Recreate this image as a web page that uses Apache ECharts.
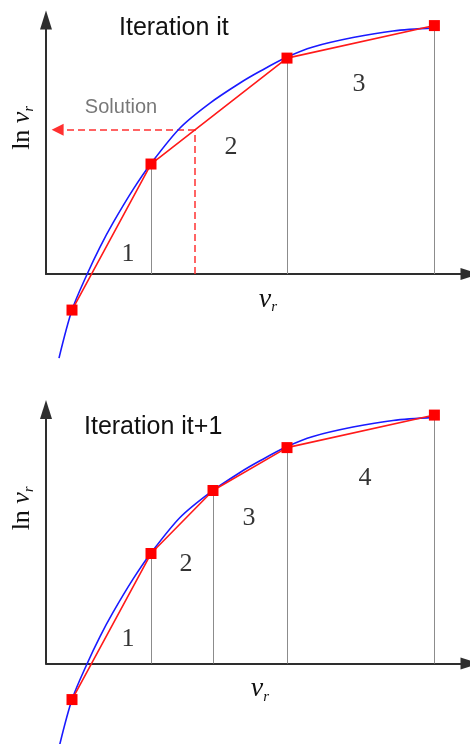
<!DOCTYPE html>
<html>
<head>
<meta charset="utf-8">
<script src="https://cdn.jsdelivr.net/npm/echarts@6/dist/echarts.min.js"></script>
<style>
  html, body { margin: 0; padding: 0; background: #ffffff; }
  #chart { width: 470px; height: 744px; }
</style>
</head>
<body>
<div id="chart"></div>
<script>
// Sampled curve ln(v_r) against v_r (arbitrary units)
const curveX = [3.25, 6.5, 10.3, 13.5, 16.75, 21.75, 26.25, 33.5, 41, 48.5, 53.5, 60.25, 66.75, 76.75, 86.75, 97];
const curveY = [-33.1, -14.2, 0, 10.6, 20.1, 33.2, 43.5, 57.5, 67.3, 75.2, 79.8, 85.4, 89.4, 93.1, 95.7, 96.9];

// Piecewise-linear nodes, iteration it
const nodesItX = [6.5, 26.25, 60.25, 97.1];
const nodesItY = [-14.2, 43.3, 85, 97.8];

// Piecewise-linear nodes, iteration it+1
const nodesNextX = [6.5, 26.25, 41.75, 60.25, 97.1];
const nodesNextY = [-14.2, 43.3, 68.1, 85, 97.8];

// Solution found on segment 2 of iteration it
const solutionX = 37.25;
const solutionY = 56.8;

// Segment numbers
const segNamesIt = ['1', '2', '3'];
const segNamesNext = ['1', '2', '3', '4'];

// ---- layout: anchors for the annotation texts (data units) ----
const segAnchorIt = [[20.5, 7.9], [46.25, 50.0], [78.25, 74.8]];
const segAnchorNext = [[20.5, 9.6], [35, 39.2], [50.75, 57.3], [79.75, 73.0]];
const solutionTextAnchor = [18.75, 65.7];
const arrowEndX = 2.9;

const AXIS = '#2e2e2e';
const SERIF = "'Liberation Serif', 'Times New Roman', serif";
const SANS = "'Liberation Sans', Arial, sans-serif";

const pairs = (xs, ys) => xs.map((x, i) => [x, ys[i]]);

function axisPair(idx, xPad, yPad) {
  return {
    x: {
      type: 'value', gridIndex: idx, min: 0, max: 106,
      axisLine: { show: true, onZero: false, symbol: ['none', 'triangle'], symbolSize: [12, 19],
        lineStyle: { color: AXIS, width: 2 } },
      axisTick: { show: false }, axisLabel: { show: false }, splitLine: { show: false },
      name: '{b|ν}{c|r}', nameLocation: 'middle', nameGap: 10,
      nameTextStyle: { rich: {
        b: { fontFamily: SERIF, fontStyle: 'italic', fontSize: 28, color: '#111', padding: [0, 0, 0, xPad] },
        c: { fontFamily: SERIF, fontStyle: 'italic', fontSize: 15, color: '#111', padding: [16, 0, 0, 0] }
      } }
    },
    y: {
      type: 'value', gridIndex: idx, min: 0, max: 100,
      axisLine: { show: true, onZero: false, symbol: ['none', 'triangle'], symbolSize: [12, 19],
        lineStyle: { color: AXIS, width: 2 } },
      axisTick: { show: false }, axisLabel: { show: false }, splitLine: { show: false },
      name: '{a|ln }{b|ν}{c|r}', nameLocation: 'middle', nameRotate: 90, nameGap: 10,
      nameTextStyle: { rich: {
        a: { fontFamily: SERIF, fontSize: 26, color: '#111', padding: [0, 0, 0, yPad] },
        b: { fontFamily: SERIF, fontStyle: 'italic', fontSize: 26, color: '#111' },
        c: { fontFamily: SERIF, fontStyle: 'italic', fontSize: 14, color: '#111', padding: [14, 0, 0, 0] }
      } }
    }
  };
}

function panelSeries(idx, nodesX, nodesY, anchors, names) {
  const nodes = pairs(nodesX, nodesY);
  const drops = nodes.filter(p => p[1] > 0).map(p => ({ coords: [p, [p[0], 0]] }));
  return [
    {
      type: 'lines', coordinateSystem: 'cartesian2d', xAxisIndex: idx, yAxisIndex: idx,
      data: drops, symbol: 'none', silent: true, z: 1,
      lineStyle: { color: '#8c8c8c', width: 1, opacity: 1 }
    },
    {
      type: 'line', xAxisIndex: idx, yAxisIndex: idx, data: pairs(curveX, curveY),
      smooth: 0.3, symbol: 'none', clip: false, silent: true, z: 3,
      lineStyle: { color: '#1a1aff', width: 1.6 }
    },
    {
      type: 'line', xAxisIndex: idx, yAxisIndex: idx, data: nodes,
      symbol: 'rect', symbolSize: 11, showAllSymbol: true, clip: false, silent: true, z: 4,
      itemStyle: { color: '#ff0000' },
      lineStyle: { color: '#ff1a1a', width: 1.6 }
    },
    {
      type: 'scatter', xAxisIndex: idx, yAxisIndex: idx, silent: true, z: 5,
      symbolSize: 1, itemStyle: { color: 'rgba(0,0,0,0)' },
      data: anchors.map((a, i) => ({ name: names[i], value: a })),
      label: { show: true, position: 'inside', formatter: p => p.name,
        fontFamily: SERIF, fontSize: 26, color: '#000' }
    }
  ];
}

const a0 = axisPair(0, 20, 38);
const a1 = axisPair(1, 4, 56);

const series = [
  ...panelSeries(0, nodesItX, nodesItY, segAnchorIt, segNamesIt),
  ...panelSeries(1, nodesNextX, nodesNextY, segAnchorNext, segNamesNext),
  {
    type: 'lines', coordinateSystem: 'cartesian2d', xAxisIndex: 0, yAxisIndex: 0,
    data: [{ coords: [[solutionX, 0], [solutionX, solutionY]] }],
    symbol: 'none', silent: true, z: 2,
    lineStyle: { color: '#ff3030', width: 1.5, type: [7, 4], opacity: 1 }
  },
  {
    type: 'lines', coordinateSystem: 'cartesian2d', xAxisIndex: 0, yAxisIndex: 0,
    data: [{ coords: [[solutionX, solutionY], [arrowEndX, solutionY]] }],
    symbol: ['none', 'triangle'], symbolSize: [9, 12], silent: true, z: 2,
    itemStyle: { color: '#ff1a1a' },
    lineStyle: { color: '#ff3030', width: 1.5, type: [7, 4], opacity: 1 }
  },
  {
    type: 'scatter', xAxisIndex: 0, yAxisIndex: 0, silent: true, z: 5,
    symbolSize: 1, itemStyle: { color: 'rgba(0,0,0,0)' },
    data: [{ name: 'Solution', value: solutionTextAnchor }],
    label: { show: true, position: 'inside', formatter: p => p.name,
      fontFamily: SANS, fontSize: 20, color: '#555' }
  }
];

const chart = echarts.init(document.getElementById('chart'), null, { renderer: 'canvas' });
chart.setOption({
  animation: false,
  backgroundColor: '#ffffff',
  title: [
    { text: 'Iteration it', left: 119, top: 16, padding: 0,
      textStyle: { fontFamily: SANS, fontSize: 25, fontWeight: 'normal', color: '#111' } },
    { text: 'Iteration it+1', left: 84, top: 415, padding: 0,
      textStyle: { fontFamily: SANS, fontSize: 25, fontWeight: 'normal', color: '#111' } }
  ],
  grid: [
    { left: 46, right: 0, top: 20, height: 254 },
    { left: 46, right: 0, top: 409.5, height: 254 }
  ],
  xAxis: [a0.x, a1.x],
  yAxis: [a0.y, a1.y],
  series: series
});
</script>
</body>
</html>
